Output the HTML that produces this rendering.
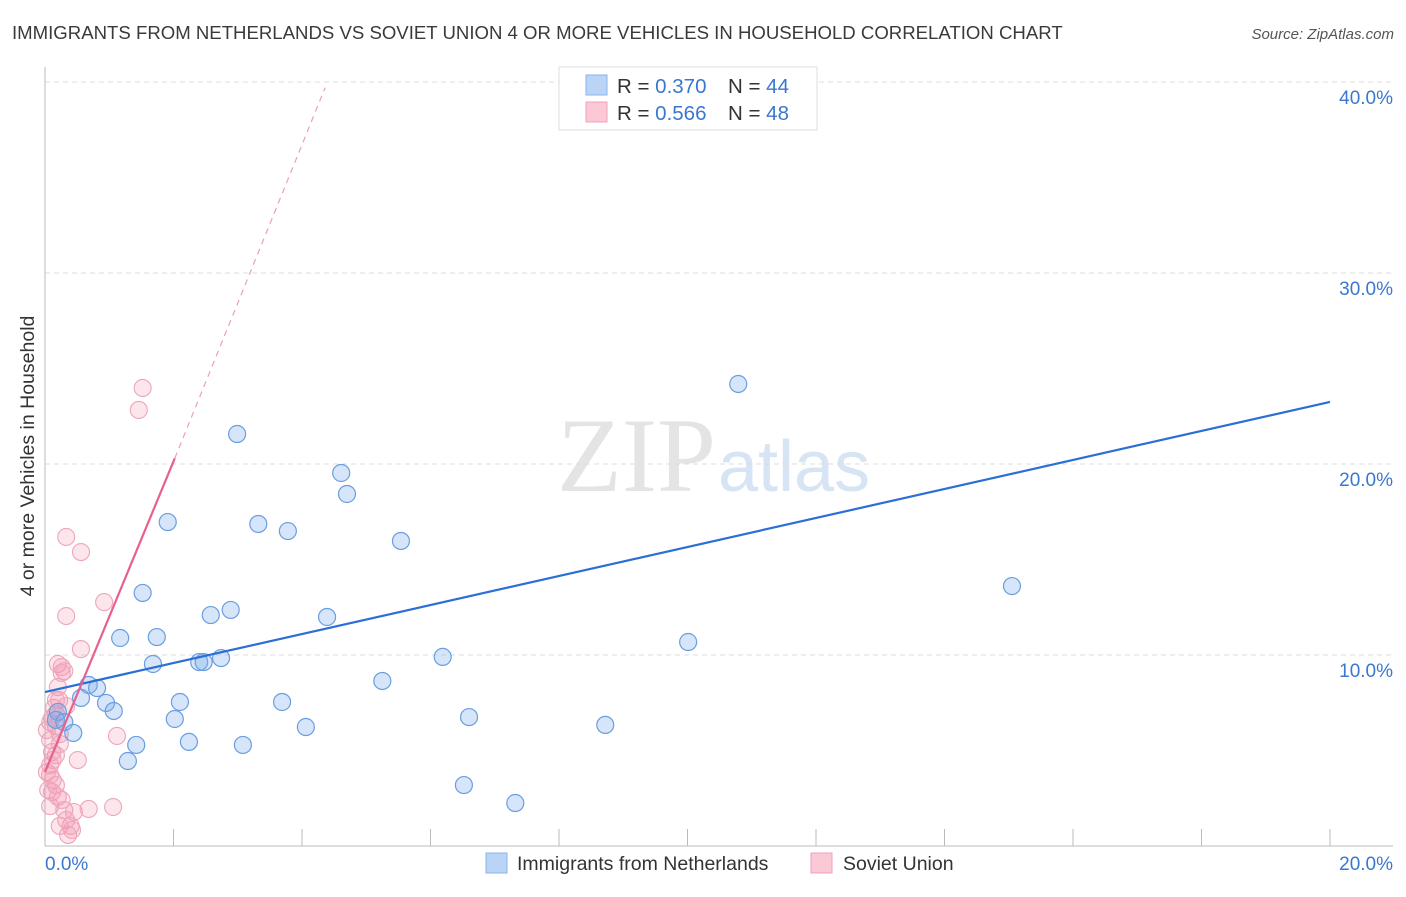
<!DOCTYPE html>
<html><head><meta charset="utf-8"><style>
body{margin:0;background:#fff;font-family:"Liberation Sans",sans-serif}
svg text{font-family:"Liberation Sans",sans-serif}
</style></head><body>
<svg id="c" width="1406" height="892" viewBox="0 0 1406 892">
<text x="12" y="39" font-size="18.6" fill="#3a3a3a">IMMIGRANTS FROM NETHERLANDS VS SOVIET UNION 4 OR MORE VEHICLES IN HOUSEHOLD CORRELATION CHART</text>
<text x="1394" y="39" font-size="15" font-style="italic" fill="#555" text-anchor="end">Source: ZipAtlas.com</text>
<text x="34" y="456" font-size="19.5" fill="#333" text-anchor="middle" transform="rotate(-90 34 456)">4 or more Vehicles in Household</text>
<text x="716" y="491" font-size="106" fill="#e4e4e4" text-anchor="end" style="font-family:'Liberation Serif',serif">ZIP</text>
<text x="718" y="491" font-size="72" fill="#d6e4f4">atlas</text>
<g id="grid"></g><g id="axes"></g><g id="pts"></g><g id="lines"></g>
<g>
<rect x="559" y="67" width="258" height="63" fill="#fff" stroke="#ddd"/>
<rect x="586" y="75" width="21" height="20" fill="#b9d4f5" stroke="#8ab4ea"/>
<rect x="586" y="102" width="21" height="20" fill="#fbc8d6" stroke="#f0a0b8"/>
<text x="617" y="93" font-size="20.5" fill="#333">R = <tspan fill="#3a78d0">0.370</tspan><tspan x="728">N = </tspan><tspan fill="#3a78d0">44</tspan></text>
<text x="617" y="120" font-size="20.5" fill="#333">R = <tspan fill="#3a78d0">0.566</tspan><tspan x="728">N = </tspan><tspan fill="#3a78d0">48</tspan></text>
</g>
<g>
<rect x="486" y="853" width="21" height="20" fill="#b9d4f5" stroke="#8ab4ea"/>
<text x="517" y="870" font-size="19.5" fill="#333">Immigrants from Netherlands</text>
<rect x="811" y="853" width="21" height="20" fill="#fbc8d6" stroke="#f0a0b8"/>
<text x="843" y="870" font-size="19.5" fill="#333">Soviet Union</text>
</g>
</svg>
<script>
const yTicks=[10,20,30,40];
const yTickLabels=["10.0%","20.0%","30.0%","40.0%"];
const xTickLabels=["0.0%","20.0%"];
const blueX=[9.04,10.79,2.99,4.61,4.70,1.91,3.32,3.78,5.54,15.05,1.52,2.58,2.89,4.39,1.17,1.74,10.01,1.68,2.40,2.47,2.74,6.19,5.25,0.68,0.81,0.56,2.10,0.95,3.69,1.07,2.02,6.60,0.20,0.17,0.30,8.72,4.06,0.44,2.24,1.42,3.08,1.29,6.52,7.32];
const blueY=[40.1,24.19,21.57,19.53,18.43,16.96,16.86,16.49,15.97,13.61,13.25,12.09,12.36,11.99,10.89,10.94,10.68,9.53,9.63,9.63,9.84,9.90,8.64,8.43,8.27,7.75,7.54,7.49,7.54,7.07,6.65,6.75,7.02,6.60,6.49,6.34,6.23,5.92,5.45,5.29,5.29,4.45,3.19,2.25];
const pinkX=[1.52,1.46,0.33,0.56,0.92,0.33,0.56,0.20,0.26,0.30,0.20,0.22,0.26,0.17,0.11,0.17,0.23,1.12,0.08,0.51,0.11,0.17,0.08,0.03,0.12,0.17,0.11,0.20,0.08,0.30,0.45,0.68,1.06,0.33,0.40,0.36,0.23,0.14,0.08,0.03,0.23,0.12,0.05,0.26,0.42,0.17,0.33,0.08];
const pinkY=[23.98,22.83,16.18,15.39,12.77,12.04,10.31,9.53,9.37,9.16,8.32,7.64,9.06,6.91,6.70,6.28,5.86,5.76,5.55,4.50,4.92,4.76,4.24,3.87,3.46,3.19,2.83,2.57,2.09,1.88,1.78,1.94,2.04,1.36,1.05,0.58,1.05,7.23,6.49,6.07,5.34,4.50,2.93,2.41,0.84,7.64,7.33,3.72];
const blueLine=[[0,8.06],[20,23.25]];
const pinkSolid=[[0,3.87],[2.02,20.3]];
const pinkDash=[[2.02,20.3],[4.36,39.7]];
const X=v=>45+v*64.25, Y=v=>846-v*19.1;
const NS="http://www.w3.org/2000/svg";
function mk(p,t,a){const e=document.createElementNS(NS,t);for(const k in a)e.setAttribute(k,a[k]);document.getElementById(p).appendChild(e);return e;}
yTicks.forEach((t,i)=>{
 const l=mk('grid','line',{x1:45,x2:1393,y1:Y(t),y2:Y(t),stroke:'#ddd','stroke-dasharray':'5,4'});
 
 
 const tx=mk('grid','text',{x:1393,y:Y(t)+22,'font-size':19,fill:'#3a78d0','text-anchor':'end'});
 tx.textContent=yTickLabels[i];
 
 
});
let a=mk('axes','line',{x1:45,x2:45,y1:67,y2:846,stroke:'#bbb'});


a=mk('axes','line',{x1:45,x2:1393,y1:846,y2:846,stroke:'#bbb'});


for(let i=1;i<=10;i++){const t=mk('axes','line',{x1:X(i*2),x2:X(i*2),y1:829,y2:846,stroke:'#bbb'});
 
 }
[[0,'start',45],[1,'end',1393]].forEach(([i,an,x])=>{const t=mk('axes','text',{x:x,y:870,'font-size':19,fill:'#3a78d0','text-anchor':an});t.textContent=xTickLabels[i];
 
 });
pinkX.forEach((v,i)=>{const c=mk('pts','circle',{cx:X(v),cy:Y(pinkY[i]),r:8.5,fill:'rgba(244,150,176,0.25)',stroke:'#eda6bb','stroke-width':1.1});
 
 });
blueX.forEach((v,i)=>{const c=mk('pts','circle',{cx:X(v),cy:Y(blueY[i]),r:8.5,fill:'rgba(120,170,235,0.3)',stroke:'#6a9ee0','stroke-width':1.2});
 
 });
let L=mk('lines','line',{x1:X(blueLine[0][0]),y1:Y(blueLine[0][1]),x2:X(blueLine[1][0]),y2:Y(blueLine[1][1]),stroke:'#2a6fd6','stroke-width':2.2});


L=mk('lines','line',{x1:X(pinkSolid[0][0]),y1:Y(pinkSolid[0][1]),x2:X(pinkSolid[1][0]),y2:Y(pinkSolid[1][1]),stroke:'#e8608e','stroke-width':2.2});


L=mk('lines','line',{x1:X(pinkDash[0][0]),y1:Y(pinkDash[0][1]),x2:X(pinkDash[1][0]),y2:Y(pinkDash[1][1]),stroke:'#eaa0b8','stroke-width':1.2,'stroke-dasharray':'6,5'});


</script>
</body></html>
